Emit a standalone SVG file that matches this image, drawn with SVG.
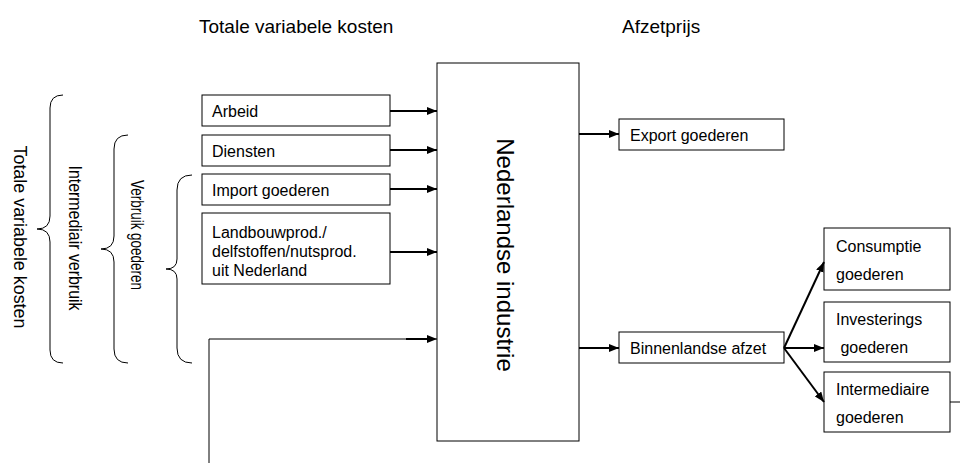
<svg xmlns="http://www.w3.org/2000/svg" width="960" height="466" viewBox="0 0 960 466">
<style>
  .box { fill: #fff; stroke: #000; stroke-width: 1; }
  .t { font-family: "Liberation Sans", Arial, sans-serif; font-size: 16px; fill: #000; }
  .title { font-family: "Liberation Sans", Arial, sans-serif; font-size: 19px; fill: #000; }
  .rot { font-family: "Liberation Sans", Arial, sans-serif; font-size: 18px; fill: #000; text-anchor: middle; }
  .big { font-family: "Liberation Sans", Arial, sans-serif; font-size: 24px; fill: #000; text-anchor: middle; }
  .conn { fill: none; stroke: #000; stroke-width: 2; }
  .thin { fill: none; stroke: #000; stroke-width: 1; }
  .brace { fill: none; stroke: #000; stroke-width: 1; }
</style>
<defs>
  <marker id="ah" markerUnits="userSpaceOnUse" markerWidth="10" markerHeight="8" refX="10" refY="4" orient="auto">
    <path d="M0,0 L10,4 L0,8 z" fill="#000"/>
  </marker>
</defs>
<rect width="960" height="466" fill="#fff"/>

<text class="title" x="199" y="33">Totale variabele kosten</text>
<text class="title" x="622" y="33">Afzetprijs</text>

<g id="braces">
  <path class="brace" d="M63,95 Q50,95 50,108 L50,216 Q50,229 37,229 Q50,229 50,242 L50,350 Q50,363 63,363"/>
  <path class="brace" d="M128,135 Q114,135 114,149 L114,236 Q114,249 101,249 Q114,249 114,262 L114,349 Q114,363 128,363"/>
  <path class="brace" d="M192,175 Q177,175 177,190 L177,259 Q177,269 166,269 Q177,269 177,279 L177,348 Q177,363 192,363"/>
</g>

<g id="labels-left">
  <text class="rot" transform="translate(20,237) rotate(90)" dy="0.35em" textLength="183" lengthAdjust="spacingAndGlyphs">Totale variabele kosten</text>
  <text class="rot" transform="translate(75,238) rotate(90)" dy="0.35em" textLength="145" lengthAdjust="spacingAndGlyphs">Intermediair verbruik</text>
  <text class="rot" transform="translate(137,235) rotate(90)" dy="0.35em" textLength="110" lengthAdjust="spacingAndGlyphs">Verbruik goederen</text>
</g>

<g id="arbeid">
  <rect class="box" x="202" y="95" width="188" height="31"/>
  <text class="t" x="212" y="117">Arbeid</text>
</g>
<g id="diensten">
  <rect class="box" x="202" y="135" width="188" height="31"/>
  <text class="t" x="212" y="157">Diensten</text>
</g>
<g id="import">
  <rect class="box" x="202" y="174" width="188" height="31"/>
  <text class="t" x="212" y="196">Import goederen</text>
</g>
<g id="landbouw">
  <rect class="box" x="202" y="213" width="188" height="71"/>
  <text class="t" x="212" y="238">Landbouwprod./</text>
  <text class="t" x="212" y="257">delfstoffen/nutsprod.</text>
  <text class="t" x="212" y="276">uit Nederland</text>
</g>

<g id="industrie">
  <rect class="box" x="437" y="63" width="142" height="378"/>
  <text class="big" transform="translate(505,255) rotate(90)" dy="0.35em">Nederlandse industrie</text>
</g>

<g id="export">
  <rect class="box" x="619" y="119" width="165" height="31"/>
  <text class="t" x="630" y="141">Export goederen</text>
</g>
<g id="binnenlands">
  <rect class="box" x="619" y="332" width="165" height="31"/>
  <text class="t" x="630" y="354">Binnenlandse afzet</text>
</g>
<g id="consumptie">
  <rect class="box" x="824" y="228" width="126" height="62"/>
  <text class="t" x="836" y="252">Consumptie</text>
  <text class="t" x="836" y="280">goederen</text>
</g>
<g id="investerings">
  <rect class="box" x="824" y="302" width="126" height="60"/>
  <text class="t" x="836" y="325">Investerings</text>
  <text class="t" x="836" y="353" xml:space="preserve"> goederen</text>
</g>
<g id="intermediaire">
  <rect class="box" x="824" y="372" width="126" height="60"/>
  <text class="t" x="836" y="395">Intermediaire</text>
  <text class="t" x="836" y="423">goederen</text>
</g>

<g id="connectors">
  <line class="conn" x1="390" y1="111" x2="437" y2="111" marker-end="url(#ah)"/>
  <line class="conn" x1="390" y1="150" x2="437" y2="150" marker-end="url(#ah)"/>
  <line class="conn" x1="390" y1="189" x2="437" y2="189" marker-end="url(#ah)"/>
  <line class="conn" x1="390" y1="252" x2="437" y2="252" marker-end="url(#ah)"/>
  <polyline class="thin" points="209,463 209,339 437,339" marker-end="url(#ah)"/>
  <line class="conn" x1="406" y1="339" x2="430" y2="339"/>
  <line class="conn" x1="579" y1="134" x2="619" y2="134" marker-end="url(#ah)"/>
  <line class="conn" x1="579" y1="348" x2="619" y2="348" marker-end="url(#ah)"/>
  <line class="conn" x1="784" y1="348" x2="824" y2="262" marker-end="url(#ah)"/>
  <line class="conn" x1="784" y1="348" x2="824" y2="348" marker-end="url(#ah)"/>
  <line class="conn" x1="784" y1="348" x2="824" y2="402" marker-end="url(#ah)"/>
  <line class="thin" x1="950" y1="402" x2="960" y2="402"/>
</g>
</svg>
